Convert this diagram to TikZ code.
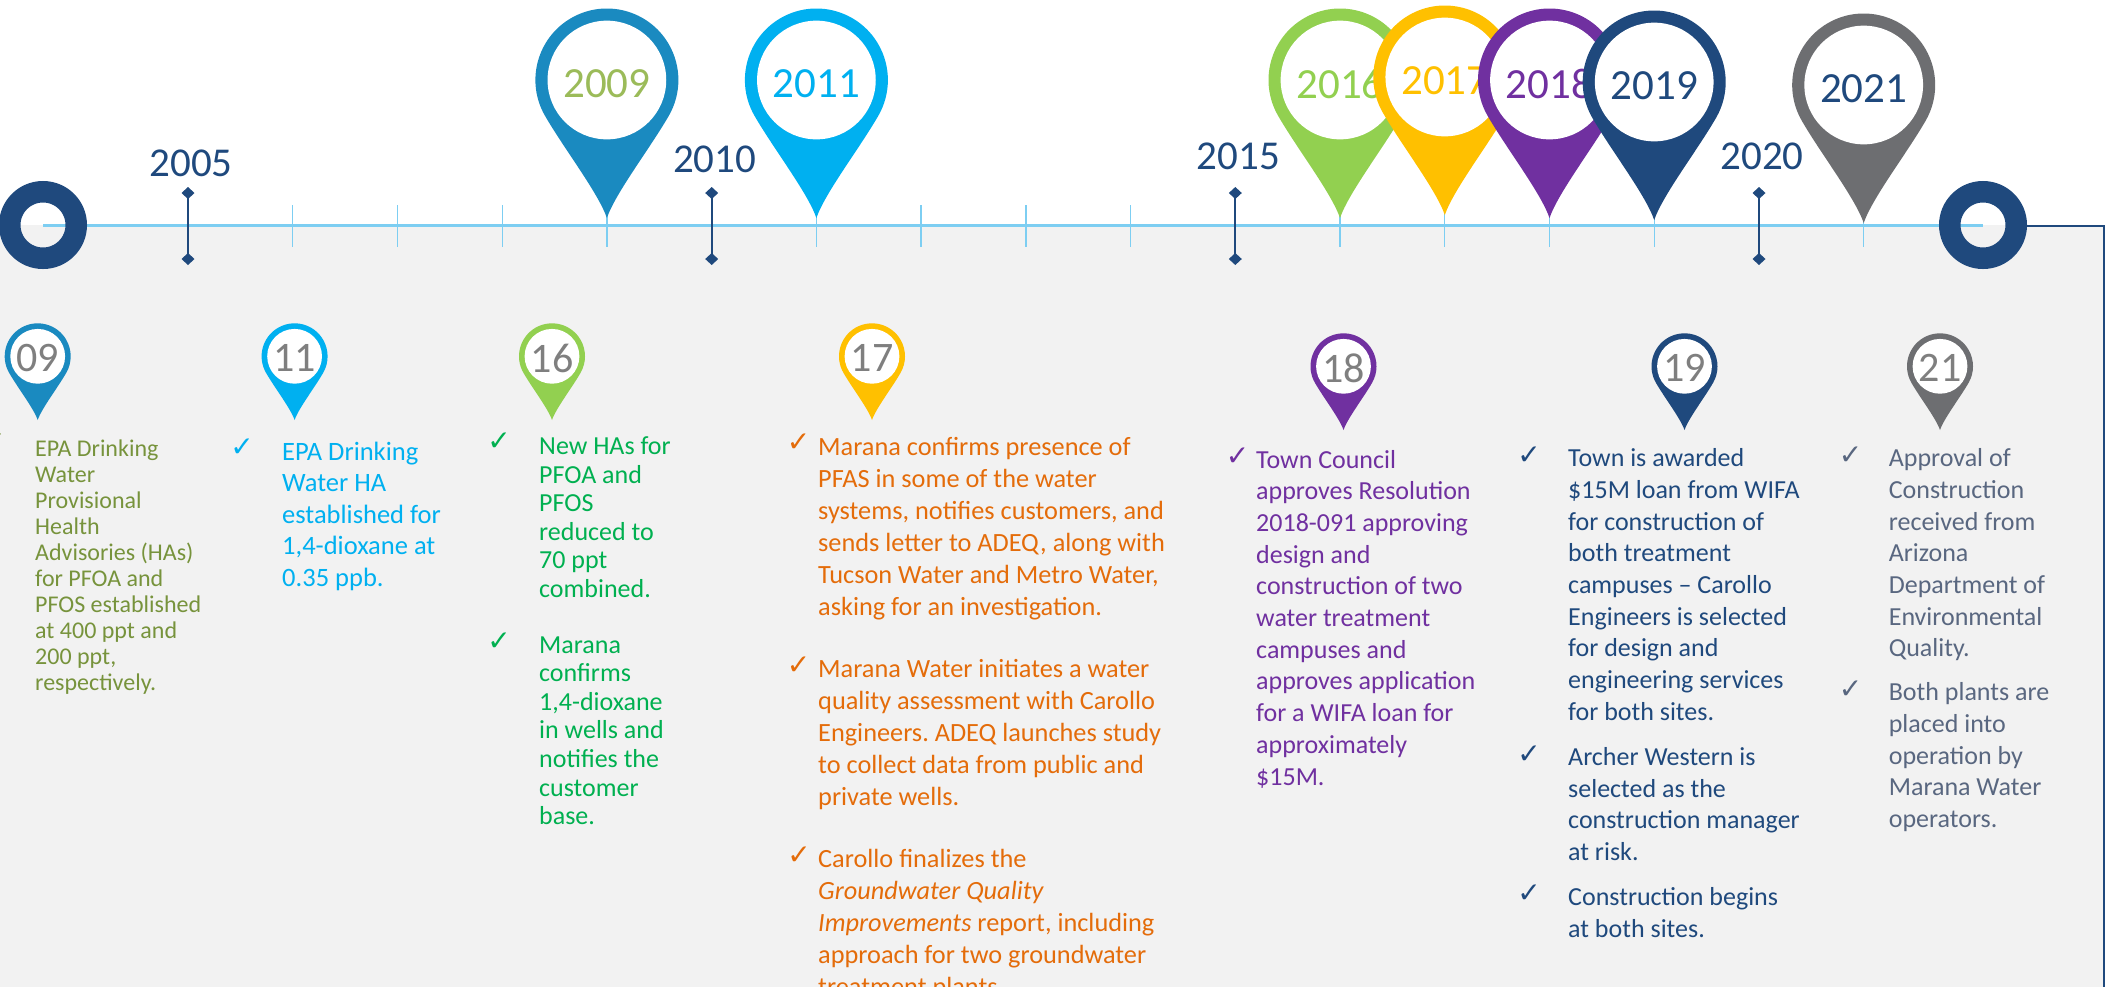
\documentclass[tikz,border=0pt]{standalone}
\usepackage{fontspec}
\setmainfont{Carlito}
\newfontfamily\symfont{DejaVu Sans}
\frenchspacing

\definecolor{navy}{HTML}{1F497D}
\definecolor{linebl}{HTML}{7DCEF2}
\definecolor{panel}{HTML}{F2F2F2}
\definecolor{pinA}{HTML}{1A8AC0}
\definecolor{cyanA}{HTML}{00B0F0}
\definecolor{limeA}{HTML}{92D050}
\definecolor{amberA}{HTML}{FFC000}
\definecolor{purpA}{HTML}{7030A0}
\definecolor{greyA}{HTML}{6D6E71}
\definecolor{olive}{HTML}{77933C}
\definecolor{sage}{HTML}{9BBB59}
\definecolor{grass}{HTML}{00B050}
\definecolor{orangeA}{HTML}{E46C0A}
\definecolor{slate}{HTML}{596780}
\definecolor{digit}{HTML}{7F7F7F}

% map pin: #1 name, #2 tip x, #3 tip y (downwards), #4 radius, #5 colour, #6 label, #7 label style
\newcommand\mappin[7]{%
  \begin{scope}[shift={(#2,-#3)}]
    \fill[#5] (0,0) .. controls ({-0.12*#4},{0.35*#4}) and ({-0.6*#4},{0.97*#4}) .. ({-0.866*#4},{1.43*#4})
      arc[start angle=210, end angle=-30, radius=#4]
      .. controls ({0.6*#4},{0.97*#4}) and ({0.12*#4},{0.35*#4}) .. cycle;
    \fill[white] (0,{1.93*#4}) circle[radius={0.83*#4}];
    \node[#7] (#1) at (0,{1.93*#4}) {#6};
  \end{scope}}

% year tick with diamond ends: #1 name, #2 x, #3 label, #4 label y
\newcommand\yeartick[4]{%
  \draw[navy, line width=2] (#2,-193) -- (#2,-259);
  \fill[navy] (#2,-187) -- ({#2+6.5},-193) -- (#2,-199) -- ({#2-6.5},-193) -- cycle;
  \fill[navy] (#2,-253) -- ({#2+6.5},-259) -- (#2,-265) -- ({#2-6.5},-259) -- cycle;
  \node[yearlbl] (#1) at ({#2+3},-#4) {#3};}

\begin{document}
\begin{tikzpicture}[x=1pt, y=1pt,
  yearlbl/.style={text=navy, font=\fontsize{41}{41}\selectfont, inner sep=0},
  biglbl/.style={font=\fontsize{43}{43}\selectfont, inner sep=0, yshift=-4},
  smalllbl/.style={text=digit, font=\fontsize{42}{42}\selectfont, inner sep=0, yshift=-2},
  % multi-line blocks are placed by the baseline of their last line
  bodytxt/.style={anchor=base west, inner sep=0, align=left},
  chk/.style={font=\symfont\fontsize{28}{28}\selectfont, inner sep=0}]

\useasboundingbox (0,0) rectangle (2105,-986);
\clip (0,0) rectangle (2105,-986);

% background panel below the axis
\fill[panel] (0,-225) rectangle (2104,-990);

% axis
\coordinate (axL) at (43,-225);
\coordinate (axR) at (1983,-225);
\draw[linebl, line width=3] (axL) -- (axR);

% minor ticks
\foreach \yr in {2006,2007,2008,2009,2011,2012,2013,2014,2016,2017,2018,2019,2021}
  \draw[linebl, line width=1.3] ({188+(\yr-2005)*104.73},-205) -- ({188+(\yr-2005)*104.73},-247);

% major ticks and labels
\yeartick{y2005}{188}{2005}{163.5}
\yeartick{y2010}{711.7}{2010}{159}
\yeartick{y2015}{1235.3}{2015}{156}
\yeartick{y2020}{1759}{2020}{156.5}

% end caps
\draw[navy, line width=21.5] (axL) circle[radius=33.25];
\draw[navy, line width=21.5] (axR) circle[radius=33.25];
\coordinate (frTop) at (2104,-226);
\coordinate (frBot) at (2104,-990);
\draw[navy, line width=2] (2027,-226) -- (frTop) -- (frBot);

% large pins on the axis
\mappin{p2009}{606.9}{218}{71.5}{pinA}{2009}{biglbl, text=sage}
\mappin{p2011}{816.4}{218}{71.5}{cyanA}{2011}{biglbl, text=cyanA}
\mappin{p2016}{1340}{218}{71.5}{limeA}{2016}{biglbl, text=limeA}
\mappin{p2017}{1444.8}{215}{71.5}{amberA}{2017}{biglbl, text=amberA}
\mappin{p2018}{1549.5}{218}{71.5}{purpA}{2018}{biglbl, text=purpA}
\mappin{p2019}{1654.2}{220}{71.5}{navy}{2019}{biglbl, text=navy}
\mappin{p2021}{1863.7}{223}{71.5}{greyA}{2021}{biglbl, text=navy}

% small pins heading each column
\mappin{s09}{37.7}{420}{33}{pinA}{09}{smalllbl}
\mappin{s11}{294.6}{420}{33}{cyanA}{11}{smalllbl}
\mappin{s16}{552}{420}{33}{limeA}{16}{smalllbl}
\mappin{s17}{872}{420}{33}{amberA}{17}{smalllbl}
\mappin{s18}{1343.5}{430}{33}{purpA}{18}{smalllbl}
\mappin{s19}{1684.5}{430}{33}{navy}{19}{smalllbl}
\mappin{s21}{1940}{430}{33}{greyA}{21}{smalllbl}

% 2009
\node[chk, text=olive] (c09) at (-6,-443) {✓};
\node[bodytxt, text=olive, font=\fontsize{24}{26}\selectfont] (t09) at (35,-690)
  {EPA Drinking\\Water\\Provisional\\Health\\Advisories (HAs)\\for PFOA and\\PFOS established\\at 400 ppt and\\200 ppt,\\respectively.};

% 2011
\node[chk, text=cyanA] (c11) at (242,-447.5) {✓};
\node[bodytxt, text=cyanA, font=\fontsize{26.5}{31.5}\selectfont] (t11) at (282,-586)
  {EPA Drinking\\Water HA\\established for\\1,4-dioxane at\\0.35 ppb.};

% 2016
\node[chk, text=grass] (c16a) at (499,-442) {✓};
\node[bodytxt, text=grass, font=\fontsize{26}{28.6}\selectfont] (t16a) at (539,-597.5)
  {New HAs for\\PFOA and\\PFOS\\reduced to\\70 ppt\\combined.};
\node[chk, text=grass] (c16b) at (499,-642) {✓};
\node[bodytxt, text=grass, font=\fontsize{26}{28.6}\selectfont] (t16b) at (539,-824.6)
  {Marana\\confirms\\1,4-dioxane\\in wells and\\notifies the\\customer\\base.};

% 2017
\node[chk, text=orangeA] (c17a) at (798.5,-443) {✓};
\node[bodytxt, text=orangeA, font=\fontsize{26.3}{32}\selectfont] (t17a) at (818,-615)
  {Marana confirms presence of\\PFAS in some of the water\\systems, notifies customers, and\\sends letter to ADEQ, along with\\Tucson Water and Metro Water,\\asking for an investigation.};
\node[chk, text=orangeA] (c17b) at (798.5,-666) {✓};
\node[bodytxt, text=orangeA, font=\fontsize{26.3}{32}\selectfont] (t17b) at (818,-805)
  {Marana Water initiates a water\\quality assessment with Carollo\\Engineers. ADEQ launches study\\to collect data from public and\\private wells.};
\node[chk, text=orangeA] (c17c) at (799,-855.5) {✓};
\node[bodytxt, text=orangeA, font=\fontsize{26.3}{32}\selectfont] (t17c) at (818,-995.6)
  {Carollo finalizes the\\\textit{Groundwater Quality}\\\textit{Improvements} report, including\\approach for two groundwater\\treatment plants.};

% 2018
\node[chk, text=purpA] (c18) at (1237.5,-456.5) {✓};
\node[bodytxt, text=purpA, font=\fontsize{26}{31.7}\selectfont] (t18) at (1256,-785)
  {Town Council\\approves Resolution\\2018-091 approving\\design and\\construction of two\\water treatment\\campuses and\\approves application\\for a WIFA loan for\\approximately\\\$15M.};

% 2019
\node[chk, text=navy] (c19a) at (1529,-456) {✓};
\node[bodytxt, text=navy, font=\fontsize{26}{31.7}\selectfont] (t19a) at (1568,-720.3)
  {Town is awarded\\\$15M loan from WIFA\\for construction of\\both treatment\\campuses \textendash{} Carollo\\Engineers is selected\\for design and\\engineering services\\for both sites.};
\node[chk, text=navy] (c19b) at (1529,-755) {✓};
\node[bodytxt, text=navy, font=\fontsize{26}{31.7}\selectfont] (t19b) at (1568,-860.4)
  {Archer Western is\\selected as the\\construction manager\\at risk.};
\node[chk, text=navy] (c19c) at (1529,-893.5) {✓};
\node[bodytxt, text=navy, font=\fontsize{26}{31.7}\selectfont] (t19c) at (1568,-937)
  {Construction begins\\at both sites.};

% 2021
\node[chk, text=slate] (c21a) at (1850.5,-456) {✓};
\node[bodytxt, text=slate, font=\fontsize{26}{31.7}\selectfont] (t21a) at (1888.6,-656.9)
  {Approval of\\Construction\\received from\\Arizona\\Department of\\Environmental\\Quality.};
\node[chk, text=slate] (c21b) at (1850.5,-689.5) {✓};
\node[bodytxt, text=slate, font=\fontsize{26}{31.7}\selectfont] (t21b) at (1888.6,-827.5)
  {Both plants are\\placed into\\operation by\\Marana Water\\operators.};

\end{tikzpicture}
\end{document}
